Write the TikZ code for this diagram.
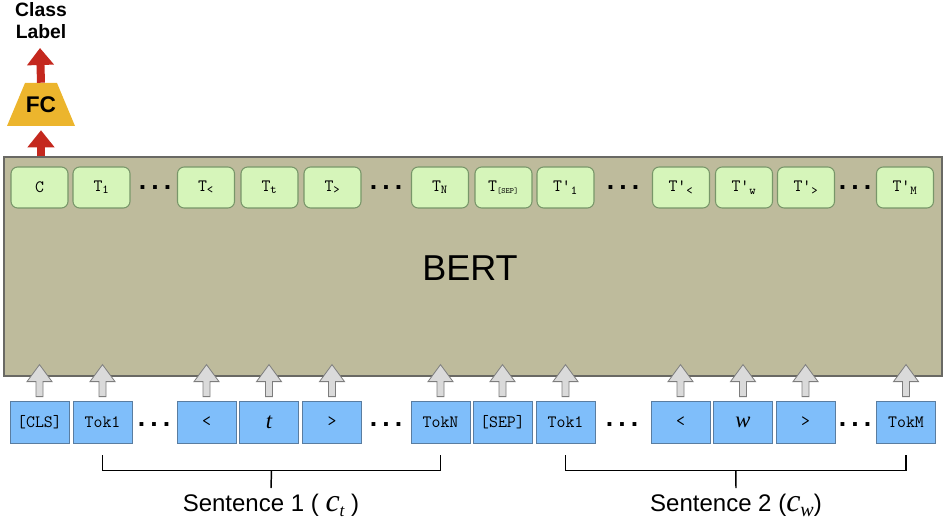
\documentclass[tikz,border=0pt]{standalone}
\usepackage{fontspec}
\setmainfont{Liberation Sans}
\newfontfamily\tmsf{Liberation Serif}
\usetikzlibrary{shapes.geometric,arrows.meta,calc}
\definecolor{bertfill}{RGB}{190,187,156}
\definecolor{bertdraw}{RGB}{105,105,100}
\definecolor{gfill}{RGB}{214,245,186}
\definecolor{gdraw}{RGB}{120,150,105}
\definecolor{bfill}{RGB}{127,190,250}
\definecolor{bdraw}{RGB}{90,125,160}
\definecolor{fcfill}{RGB}{236,181,45}
\definecolor{fcdraw}{RGB}{200,150,40}
\definecolor{redarr}{RGB}{196,40,30}
\definecolor{garrfill}{RGB}{218,218,218}
\definecolor{garrdraw}{RGB}{125,125,125}
\begin{document}
\begin{tikzpicture}[x=0.75pt,y=-0.75pt,
  outnode/.style={draw=gdraw, fill=gfill, rounded corners=5pt, minimum width=42.75pt,
    minimum height=30.75pt, inner sep=0pt, line width=0.8pt,
    font=\ttfamily\fontsize{13}{13}\selectfont\addfontfeature{FakeBold=1.2}},
  innode/.style={draw=bdraw, fill=bfill, minimum width=44.25pt, minimum height=31.5pt,
    inner sep=0pt, line width=0.6pt, font=\ttfamily\fontsize{13}{13}\selectfont\addfontfeature{FakeBold=1.2}},
  dotsnode/.style={inner sep=0pt, font=\bfseries\fontsize{20}{20}\selectfont},
  garrow/.style={draw=garrdraw, fill=garrfill, line width=0.6pt, line join=miter},
  redarrow/.style={draw=redarr, line width=6pt, -{Triangle[width=19.5pt,length=12.75pt]}},
  brk/.style={draw=black, line width=1.1pt},
  senlabel/.style={inner xsep=0pt, inner ysep=4pt, font=\fontsize{18}{18}\selectfont, anchor=base},
  fcnode/.style={minimum width=51pt, minimum height=32.25pt, inner sep=0pt,
    font=\bfseries\fontsize{17}{17}\selectfont,
    path picture={\fill[fcfill] (path picture bounding box.south west)
      -- ([xshift=13.5pt]path picture bounding box.north west)
      -- ([xshift=-13.5pt]path picture bounding box.north east)
      -- (path picture bounding box.south east) -- cycle;}},
]
\useasboundingbox (0,0) rectangle (945,520);

% BERT block
\node[draw=bertdraw, fill=bertfill, line width=1.1pt, minimum width=703.5pt, minimum height=164.25pt,
  inner sep=0pt] (bert) at (473,266.5) {};
\node[inner sep=0pt, font=\fontsize{27}{27}\selectfont] (berttext) at (470,268) {BERT};

% output nodes
\node[outnode] (o1) at (39.5,187.5) {C};
\node[outnode] (o2) at (101.5,187.5) {T\textsubscript{1}};
\node[outnode] (o3) at (206,187.5) {T\textsubscript{<}};
\node[outnode] (o4) at (269.5,187.5) {T\textsubscript{t}};
\node[outnode] (o5) at (332.5,187.5) {T\textsubscript{>}};
\node[outnode] (o6) at (440,187.5) {T\textsubscript{N}};
\node[outnode] (o7) at (503.5,187.5) {T\textsubscript{\fontsize{6}{6}\selectfont[SEP]}};
\node[outnode] (o8) at (565.5,187.5) {T'\textsubscript{1}};
\node[outnode] (o9) at (681,187.5) {T'\textsubscript{<}};
\node[outnode] (o10) at (744,187.5) {T'\textsubscript{w}};
\node[outnode] (o11) at (806,187.5) {T'\textsubscript{>}};
\node[outnode] (o12) at (905,187.5) {T'\textsubscript{M}};

% input nodes
\node[innode] (i1) at (39.5,422) {[CLS]};
\node[innode] (i2) at (102.5,422) {Tok1};
\node[innode] (i3) at (206.5,422) {<};
\node[innode] (i4) at (269,422) {\tmsf\itshape\fontsize{17}{17}\selectfont t};
\node[innode] (i5) at (332,422) {>};
\node[innode] (i6) at (440.5,422) {TokN};
\node[innode] (i7) at (502.5,422) {[SEP]};
\node[innode] (i8) at (565.5,422) {Tok1};
\node[innode] (i9) at (680.5,422) {<};
\node[innode] (i10) at (743,422) {\tmsf\itshape\fontsize{17}{17}\selectfont w};
\node[innode] (i11) at (805.5,422) {>};
\node[innode] (i12) at (906,422) {TokM};

% dots
\foreach \x/\y [count=\k] in {155/187.5,386/187.5,623/187.5,855/187.5,154/425,386/425,622/425,855/425}
  \node[dotsnode] (dots\k) at (\x,\y) {.\kern3.8pt.\kern3.8pt.};

% gray input arrows
\foreach \n in {i1,i2,i3,i4,i5,i6,i7,i8,i9,i10,i11,i12}
  \draw[garrow] ($(\n.north)+(-3.5,-4)$) -- ($(\n.north)+(-3.5,-19)$) -- ($(\n.north)+(-12.5,-19)$)
    -- ($(\n.north)+(0,-36)$) -- ($(\n.north)+(12.5,-19)$) -- ($(\n.north)+(3.5,-19)$)
    -- ($(\n.north)+(3.5,-4)$) -- cycle;

% FC and class label
\node[fcnode] (fc) at (41,104.5) {FC};
\node[inner sep=0pt, align=center, font=\bfseries\fontsize{14.5}{16.5}\selectfont] (lbl) at (41,21) {Class\\Label};
\coordinate (lbltip) at (40,48);
\draw[redarrow] (bert.north -| fc.south) -- ([yshift=-3pt]fc.south);
\draw[redarrow] (fc.north) -- (lbltip);

% brackets
\node[senlabel] (s1) at (271,511) {Sentence 1 ( {\tmsf\itshape\fontsize{24}{24}\selectfont c}\raisebox{-4pt}{\tmsf\itshape\fontsize{13}{13}\selectfont t} )};
\node[senlabel] (s2) at (736,511) {Sentence 2 ({\tmsf\itshape\fontsize{24}{24}\selectfont c}\raisebox{-4pt}{\tmsf\itshape\fontsize{15}{15}\selectfont w})};
\draw[brk] ([yshift=-9pt]i2.south) -- ([yshift=-20.25pt]i2.south) coordinate (b1a)
  -- ([yshift=-20.25pt]i6.south) coordinate (b1b) -- ([yshift=-9pt]i6.south);
\draw[brk] ($(b1a)!0.5!(b1b)$) -- (s1.north);
\draw[brk] ([yshift=-9pt]i8.south) -- ([yshift=-20.25pt]i8.south) coordinate (b2a)
  -- ([yshift=-20.25pt]i12.south) coordinate (b2b) -- ([yshift=-9pt]i12.south);
\draw[brk] ($(b2a)!0.5!(b2b)$) -- (s2.north);
\end{tikzpicture}
\end{document}
